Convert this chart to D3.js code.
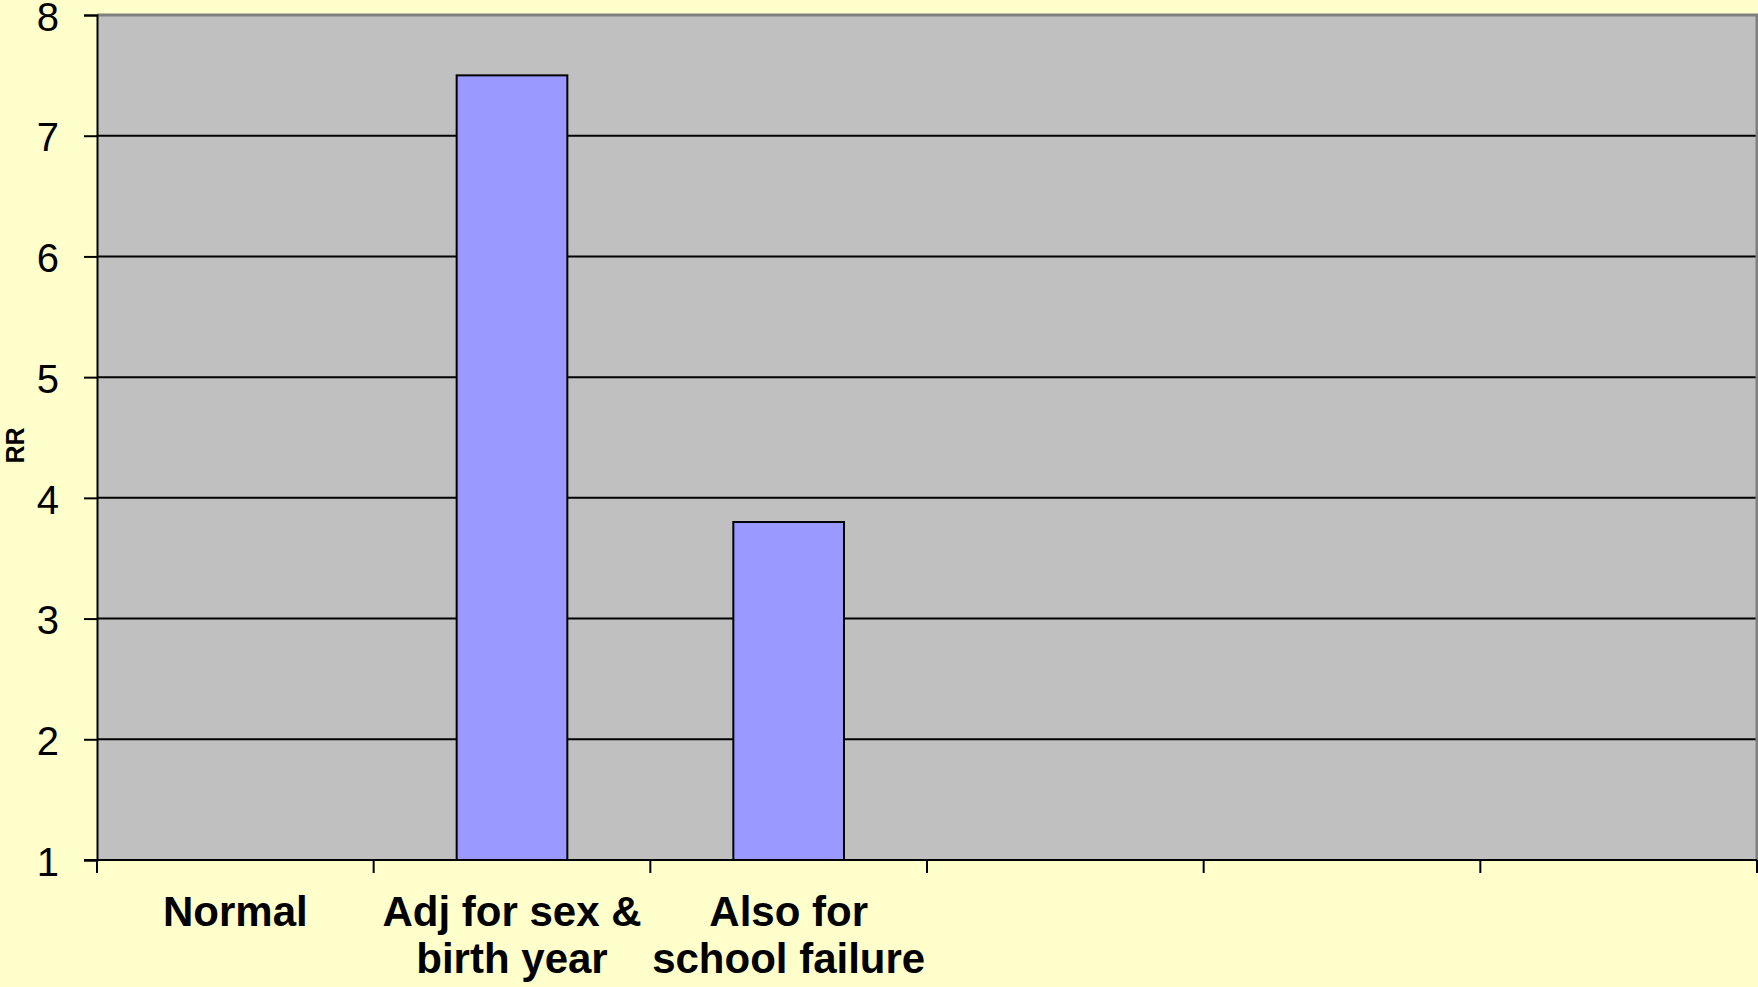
<!DOCTYPE html>
<html>
<head>
<meta charset="utf-8">
<script src="https://cdn.jsdelivr.net/npm/d3@7"></script>
<style>
  html, body { margin: 0; padding: 0; background: #FFFFCC; }
  svg { display: block; }
</style>
</head>
<body>
<svg id="chart" width="1758" height="987"></svg>
<script>
// ---- data ----
const categories = [
  ["Normal"],
  ["Adj for sex &", "birth year"],
  ["Also for", "school failure"],
  [""],
  [""],
  [""]
];
const values = [1, 7.5, 3.8, null, null, null];
const yTicks = [1, 2, 3, 4, 5, 6, 7, 8];
const yLabel = "RR";

// ---- layout ----
const W = 1758, H = 987;
const plot = { left: 97, right: 1757, top: 15, bottom: 860 };

const svg = d3.select("#chart");
svg.append("rect").attr("width", W).attr("height", H).attr("fill", "#FFFFCC");

const x = d3.scaleBand()
  .domain(d3.range(categories.length))
  .range([plot.left, plot.right])
  .paddingInner(0.6)
  .paddingOuter(0.3);

const y = d3.scaleLinear().domain([1, 8]).range([plot.bottom, plot.top]);

// plot area
svg.append("rect")
  .attr("x", plot.left).attr("y", plot.top)
  .attr("width", plot.right - plot.left).attr("height", plot.bottom - plot.top)
  .attr("fill", "#C0C0C0");

// gridlines
svg.append("g").selectAll("line")
  .data(yTicks.filter(t => t > 1 && t < 8))
  .join("line")
  .attr("x1", plot.left).attr("x2", plot.right)
  .attr("y1", d => y(d)).attr("y2", d => y(d))
  .attr("stroke", "#000").attr("stroke-width", 2);

// top & right border (gray)
svg.append("path")
  .attr("d", `M${plot.left},${y(8)}H${plot.right}V${plot.bottom}`)
  .attr("fill", "none").attr("stroke", "#808080").attr("stroke-width", 3);

// bars
svg.append("g").selectAll("rect")
  .data(values.map((v, i) => ({ v, i })).filter(d => d.v != null && d.v > 1))
  .join("rect")
  .attr("x", d => x(d.i))
  .attr("width", x.bandwidth())
  .attr("y", d => y(d.v))
  .attr("height", d => y(1) - y(d.v))
  .attr("fill", "#9999FF")
  .attr("stroke", "#000").attr("stroke-width", 2);

// y axis
const yAxis = d3.axisLeft(y).tickValues(yTicks).tickSize(13).tickPadding(25).tickFormat(d3.format("d"));
const gy = svg.append("g").attr("transform", `translate(${plot.left},0)`).call(yAxis);
gy.select(".domain").attr("stroke", "#000").attr("stroke-width", 2);
gy.selectAll(".tick line").attr("stroke", "#000").attr("stroke-width", 2);
gy.selectAll(".tick text")
  .attr("font-family", "'Liberation Sans', Arial, sans-serif")
  .attr("font-size", 40).attr("fill", "#000").attr("dy", "0.38em");

// x axis line and ticks at category boundaries
const boundaries = d3.range(categories.length + 1).map(i =>
  i < categories.length ? x(i) - x.step() * x.paddingOuter() : x(i - 1) + x.bandwidth() + x.step() * x.paddingOuter());
svg.append("line")
  .attr("x1", plot.left - 13).attr("x2", plot.right)
  .attr("y1", plot.bottom).attr("y2", plot.bottom)
  .attr("stroke", "#000").attr("stroke-width", 2);
svg.append("g").selectAll("line")
  .data(boundaries)
  .join("line")
  .attr("x1", d => d).attr("x2", d => d)
  .attr("y1", plot.bottom).attr("y2", plot.bottom + 13)
  .attr("stroke", "#000").attr("stroke-width", 2);

// category labels
const labels = svg.append("g")
  .attr("font-family", "'Liberation Sans', Arial, sans-serif")
  .attr("font-weight", "bold").attr("font-size", 42).attr("fill", "#000")
  .attr("text-anchor", "middle");
categories.forEach((lines, i) => {
  const t = labels.append("text").attr("x", x(i) + x.bandwidth() / 2).attr("y", 926);
  lines.forEach((ln, j) => {
    t.append("tspan").attr("x", x(i) + x.bandwidth() / 2).attr("dy", j === 0 ? 0 : 47).text(ln);
  });
});

// y label
svg.append("text")
  .attr("transform", `translate(24,${(plot.top + plot.bottom) / 2 + 8}) rotate(-90)`)
  .attr("text-anchor", "middle")
  .attr("font-family", "'Liberation Sans', Arial, sans-serif")
  .attr("font-weight", "bold").attr("font-size", 25).attr("fill", "#000")
  .text(yLabel);
</script>
</body>
</html>
